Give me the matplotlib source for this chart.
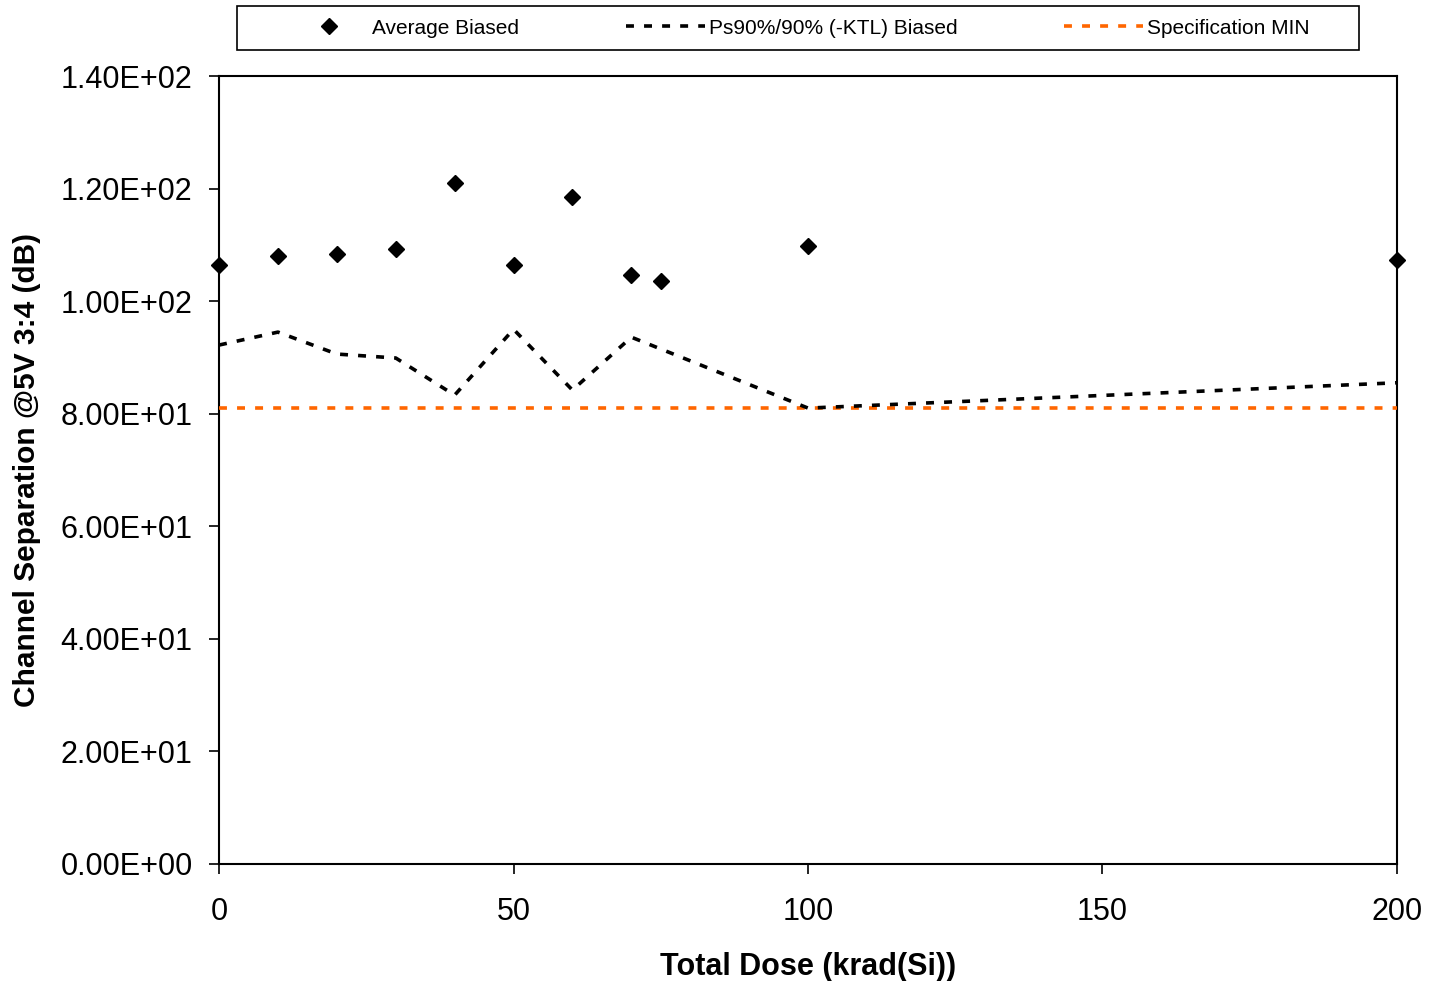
import matplotlib
matplotlib.use("Agg")
import matplotlib.pyplot as plt
from matplotlib.patches import Rectangle
from matplotlib.ticker import FuncFormatter

plt.rcParams['font.family'] = ['Liberation Sans', 'DejaVu Sans']

# dose points (krad(Si))
dose = [0, 10, 20, 30, 40, 50, 60, 70, 75, 100, 200]
avg_biased = [106.4, 108.0, 108.4, 109.3, 121.0, 106.4, 118.5, 104.6, 103.6, 109.8, 107.3]
ps90_biased = [92.2, 94.5, 90.6, 89.9, 83.3, 95.0, 84.2, 93.6, 91.5, 81.0, 85.5]
spec_min = 81.0

fig = plt.figure(figsize=(14.43, 9.81), dpi=100)
ax = fig.add_axes([0.1518, 0.1193, 0.8163, 0.8032])

ax.plot(dose, avg_biased, linestyle='none', marker='D', markersize=8,
        color='black', label='Average Biased', clip_on=False, zorder=5)
ax.plot(dose, ps90_biased, linestyle=(0, (2.2, 2.8)), linewidth=2.6,
        color='black', label='Ps90%/90% (-KTL) Biased', zorder=4)
ax.plot([dose[0], dose[-1]], [spec_min, spec_min], linestyle=(0, (2.2, 2.8)),
        linewidth=2.6, color='#FF6600', label='Specification MIN', zorder=3)

ax.set_xlim(0, 200)
ax.set_ylim(0, 140)
ax.set_xticks([0, 50, 100, 150, 200])
ax.set_yticks([0, 20, 40, 60, 80, 100, 120, 140])
ax.yaxis.set_major_formatter(FuncFormatter(lambda v, p: "{:.2E}".format(v)))
ax.tick_params(axis='both', direction='out', length=7, width=1.2, labelsize=22)
ax.tick_params(axis='x', pad=16.5)
ax.tick_params(axis='y', pad=12)
for sp in ax.spines.values():
    sp.set_linewidth(1.5)

ax.set_xlabel("Total Dose (krad(Si))", fontsize=22, fontweight='bold', labelpad=18)
ax.set_ylabel("Channel Separation @5V 3:4 (dB)", fontsize=21.5, fontweight='bold', labelpad=14)

# legend box drawn separately so the entries can sit inside it with wide side margins
fig.patches.append(Rectangle((237 / 1443, 1 - 50 / 981), 1122 / 1443, 44 / 981,
                             transform=fig.transFigure, facecolor='white',
                             edgecolor='black', linewidth=1.2))
leg = fig.legend(loc='center left', bbox_to_anchor=(289 / 1443, 1 - 28 / 981, 1021 / 1443, 0.0),
                 mode='expand', ncol=3, fontsize=15, frameon=False,
                 handlelength=3.8, handletextpad=0.2, borderaxespad=0, borderpad=0)

fig.savefig("out.png", dpi=100)
